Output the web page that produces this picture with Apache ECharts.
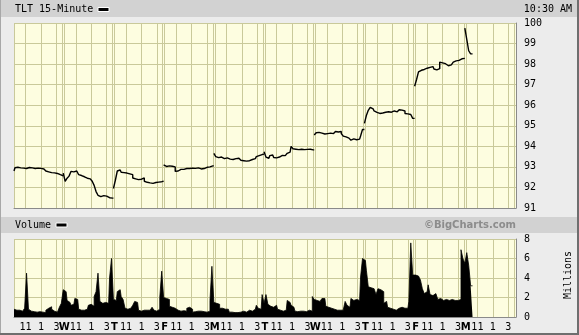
<!DOCTYPE html>
<html><head><meta charset="utf-8">
<script src="https://cdn.jsdelivr.net/npm/echarts@6/dist/echarts.min.js"></script>
<style>html,body{margin:0;padding:0;background:#ececec;overflow:hidden}#c{width:579px;height:335px}</style>
</head><body><div id="c"></div>
<script>
// ---- data (15-minute bars, 26 per trading day) ----
const dayLetters = ['T','W','T','F','M','T','W','T','F','M'];
const hourTickSlots = [6, 14, 22];
const hourTickLabels = ['11', '1', '3'];
const priceTicks = [91, 100, 1];
const volumeTicks = [0, 8, 2];

const close0 = [92.80,92.96,92.98,92.95,92.93,92.94,92.92,92.98,92.97,92.95,92.93,92.92,92.94,92.92,92.93,92.90,92.88,92.80,92.76,92.72,92.70,92.71,92.68,92.65,92.62,92.57];
const close1 = [92.70,92.30,92.45,92.55,92.78,92.76,92.80,92.74,92.62,92.58,92.52,92.48,92.45,92.42,92.36,92.30,92.10,91.80,91.62,91.55,91.60,91.52,91.58,91.50,91.55,91.48];
const close2 = [91.95,92.35,92.80,92.85,92.74,92.72,92.70,92.68,92.66,92.62,92.46,92.42,92.38,92.36,92.40,92.46,92.30,92.25,92.22,92.26,92.20,92.24,92.22,92.26,92.28,92.30];
const close3 = [93.10,93.02,93.05,93.00,93.03,93.00,92.78,92.80,92.88,92.90,92.88,92.92,92.93,92.92,92.94,92.92,92.93,92.95,92.92,92.90,92.92,92.90,92.98,93.00,93.04,93.05];
const close4 = [93.66,93.50,93.45,93.48,93.42,93.40,93.44,93.47,93.38,93.36,93.38,93.40,93.42,93.38,93.32,93.30,93.28,93.25,93.30,93.36,93.38,93.40,93.50,93.55,93.60,93.62];
const close5 = [93.74,93.48,93.42,93.55,93.58,93.46,93.44,93.48,93.54,93.56,93.55,93.58,93.66,93.72,94.00,93.88,93.86,93.84,93.82,93.86,93.84,93.82,93.85,93.86,93.84,93.83];
const close6 = [94.55,94.66,94.68,94.64,94.62,94.60,94.62,94.60,94.64,94.62,94.66,94.72,94.70,94.72,94.62,94.50,94.46,94.40,94.34,94.30,94.36,94.32,94.38,94.35,94.50,94.82];
const close7 = [95.12,95.50,95.75,95.90,95.82,95.72,95.65,95.60,95.58,95.62,95.66,95.70,95.68,95.66,95.70,95.72,95.68,95.74,95.78,95.76,95.72,95.60,95.58,95.55,95.56,95.36];
const close8 = [96.92,97.25,97.62,97.70,97.74,97.76,97.80,97.84,97.86,97.88,97.76,97.72,97.78,98.10,98.06,98.02,97.94,97.92,97.96,98.04,98.10,98.16,98.18,98.22,98.26,98.28];
const close9 = [99.75,99.20,98.65,98.50];

const vol0 = [0.8,0.7,0.75,0.7,0.6,0.65,0.9,4.5,0.8,0.6,0.55,0.6,0.5,0.55,0.6,0.5,0.45,0.7,0.9,1.05,0.8,0.6,0.5,0.7,1.0,1.4];
const vol1 = [2.8,2.6,1.7,1.5,1.2,1.3,1.9,1.8,0.8,0.7,0.7,0.65,0.8,1.2,1.3,1.1,2.1,2.6,4.5,1.6,1.4,1.5,1.6,1.4,4.0,6.0];
const vol2 = [1.8,1.7,2.6,2.8,2.1,1.8,0.9,0.8,0.9,0.8,1.2,1.6,1.5,0.7,0.6,0.7,0.6,0.7,0.7,0.8,1.0,0.7,0.6,0.8,2.0,4.7];
const vol3 = [2.0,1.9,1.8,1.1,1.0,0.9,1.0,0.7,0.6,0.7,0.65,0.6,0.9,1.0,0.8,0.5,0.55,0.6,0.5,0.6,0.55,0.6,0.5,0.6,1.7,5.2];
const vol4 = [1.5,1.4,1.3,0.9,0.9,0.8,0.9,0.8,0.5,0.5,0.45,0.5,0.45,0.5,0.55,0.6,0.5,0.6,0.7,0.6,0.7,0.8,1.2,0.9,0.8,2.3];
const vol5 = [1.4,2.3,1.3,1.1,1.0,1.1,1.2,0.8,0.7,0.6,0.7,0.7,1.7,1.5,1.2,1.0,0.6,0.55,0.6,0.5,0.6,0.55,0.6,0.7,0.6,2.1];
const vol6 = [1.8,1.7,1.6,1.8,1.9,1.9,1.1,1.0,0.9,1.0,0.8,0.7,0.65,0.7,0.7,0.8,1.6,1.2,1.0,1.9,1.7,1.8,1.6,1.7,4.1,6.0];
const vol7 = [5.8,4.8,3.1,3.0,2.9,2.8,2.3,2.9,2.8,2.6,1.4,1.6,1.0,0.9,0.8,1.0,0.7,0.9,0.8,1.0,0.9,1.0,0.9,1.6,7.6,4.3];
const vol8 = [4.3,4.2,4.1,3.8,2.9,2.4,2.6,3.3,2.3,2.2,2.4,2.3,1.8,1.9,1.7,1.9,1.8,1.7,1.9,1.8,1.7,1.6,1.7,1.8,6.9,6.0];
const vol9 = [5.5,6.6,5.3,3.2];

// ---- build ----
const PER_DAY = 26, N_DAYS = 10, N_SLOTS = PER_DAY * N_DAYS + 1;
const cats = Array.from({length: N_SLOTS}, (_, i) => String(i));
const closes = [close0,close1,close2,close3,close4,close5,close6,close7,close8,close9];
const vols = [vol0,vol1,vol2,vol3,vol4,vol5,vol6,vol7,vol8,vol9];

const tickText = new Array(N_SLOTS).fill('');
for (let d = 0; d < N_DAYS; d++) {
  if (d > 0) tickText[d * PER_DAY] = '{d|' + dayLetters[d] + '}';
  hourTickSlots.forEach((s, k) => { tickText[d * PER_DAY + s] = hourTickLabels[k]; });
}
const gridSlotOffsets = [0, 6, 14, 22, 25];
const isGridSlot = (i) => gridSlotOffsets.indexOf(i % PER_DAY) >= 0 && i < N_SLOTS - 1;

const GRIDC = '#c9c99a';
const priceSeries = closes.map((arr, d) => {
  const data = new Array(N_SLOTS).fill('-');
  arr.forEach((v, i) => { data[d * PER_DAY + i] = v; });
  return {type: 'line', xAxisIndex: 0, yAxisIndex: 0, data, step: 'middle', symbol: 'none',
    lineStyle: {color: '#000', width: 1.4}, silent: true, animation: false, z: 5};
});
const volData = new Array(N_SLOTS).fill('-');
vols.forEach((arr, d) => arr.forEach((v, i) => { volData[d * PER_DAY + i] = v; }));

const mono = 'DejaVu Sans Mono';
const chart = echarts.init(document.getElementById('c'), null, {renderer: 'canvas'});
const xBase = (gi, showLabel) => ({
  type: 'category', gridIndex: gi, data: cats, boundaryGap: false,
  axisLine: {show: true, lineStyle: {color: '#8a8a8a', width: 1}},
  axisTick: {show: false},
  axisLabel: showLabel ? {
    show: true, interval: (i) => tickText[i] !== '', formatter: (v, i) => tickText[Number(v)],
    color: '#000', fontFamily: mono, fontSize: 10, margin: 5,
    rich: {d: {fontFamily: 'DejaVu Sans', fontWeight: 'bold', fontSize: 10, color: '#000'}}
  } : {show: false},
  splitLine: {show: true, interval: (i) => isGridSlot(i), lineStyle: {color: GRIDC, width: 1}}
});
const yBase = (gi, t) => ({
  type: 'value', gridIndex: gi, position: 'right', min: t[0], max: t[1], interval: t[2],
  axisLine: {show: true, lineStyle: {color: '#8a8a8a', width: 1}},
  axisTick: {show: false},
  axisLabel: {color: '#000', fontFamily: mono, fontSize: 10, margin: 8},
  splitLine: {show: true, lineStyle: {color: GRIDC, width: 1}}
});

chart.setOption({
  animation: false,
  backgroundColor: '#ececec',
  grid: [
    {left: 14, top: 23, width: 502, height: 185, show: true, backgroundColor: '#fdfde0', borderWidth: 0, containLabel: false, outerBoundsMode: 'none'},
    {left: 14, top: 239, width: 502, height: 78, show: true, backgroundColor: '#fdfde0', borderWidth: 0, containLabel: false, outerBoundsMode: 'none'}
  ],
  xAxis: [xBase(0, false), xBase(1, true)],
  yAxis: [yBase(0, priceTicks), yBase(1, volumeTicks)],
  series: priceSeries.concat([{
    type: 'line', xAxisIndex: 1, yAxisIndex: 1, data: volData, step: 'middle', symbol: 'none',
    lineStyle: {color: '#000', width: 0.8}, areaStyle: {color: '#000', opacity: 1},
    silent: true, animation: false, z: 5
  }]),
  graphic: [
    {type: 'rect', shape: {x: 1, y: 0, width: 577, height: 17}, style: {fill: '#d2d2d2'}, z: 1},
    {type: 'rect', shape: {x: 1, y: 217, width: 577, height: 16}, style: {fill: '#d2d2d2'}, z: 1},
    {type: 'line', shape: {x1: 0.5, y1: 0, x2: 0.5, y2: 335}, style: {stroke: '#a8a8a8', lineWidth: 1}, z: 2},
    {type: 'line', shape: {x1: 578, y1: 0, x2: 578, y2: 335}, style: {stroke: '#6e6e6e', lineWidth: 2}, z: 2},
    {type: 'line', shape: {x1: 0, y1: 334, x2: 579, y2: 334}, style: {stroke: '#6e6e6e', lineWidth: 2}, z: 2},
    {type: 'text', x: 15, y: 9, style: {text: 'TLT 15-Minute', font: '10px "DejaVu Sans Mono"', fill: '#000', verticalAlign: 'middle'}, z: 3},
    {type: 'rect', shape: {x: 98, y: 7.5, width: 11, height: 4}, style: {fill: '#000', stroke: '#fff', lineWidth: 1}, z: 3},
    {type: 'text', x: 572, y: 9, style: {text: '10:30 AM', font: '10px "DejaVu Sans Mono"', fill: '#000', align: 'right', verticalAlign: 'middle'}, z: 3},
    {type: 'text', x: 15, y: 225, style: {text: 'Volume', font: '10px "DejaVu Sans Mono"', fill: '#000', verticalAlign: 'middle'}, z: 3},
    {type: 'rect', shape: {x: 56, y: 223, width: 11, height: 4}, style: {fill: '#000', stroke: '#fff', lineWidth: 1}, z: 3},
    {type: 'text', x: 516, y: 225, style: {text: '\u00a9BigCharts.com', font: 'bold 10px "DejaVu Sans"', fill: '#8c8c8c', align: 'right', verticalAlign: 'middle'}, z: 3},
    {type: 'text', x: 568, y: 275, rotation: Math.PI / 2, style: {text: 'Millions', font: '10px "DejaVu Sans Mono"', fill: '#000', align: 'center', verticalAlign: 'middle'}, z: 3}
  ]
});
</script></body></html>
